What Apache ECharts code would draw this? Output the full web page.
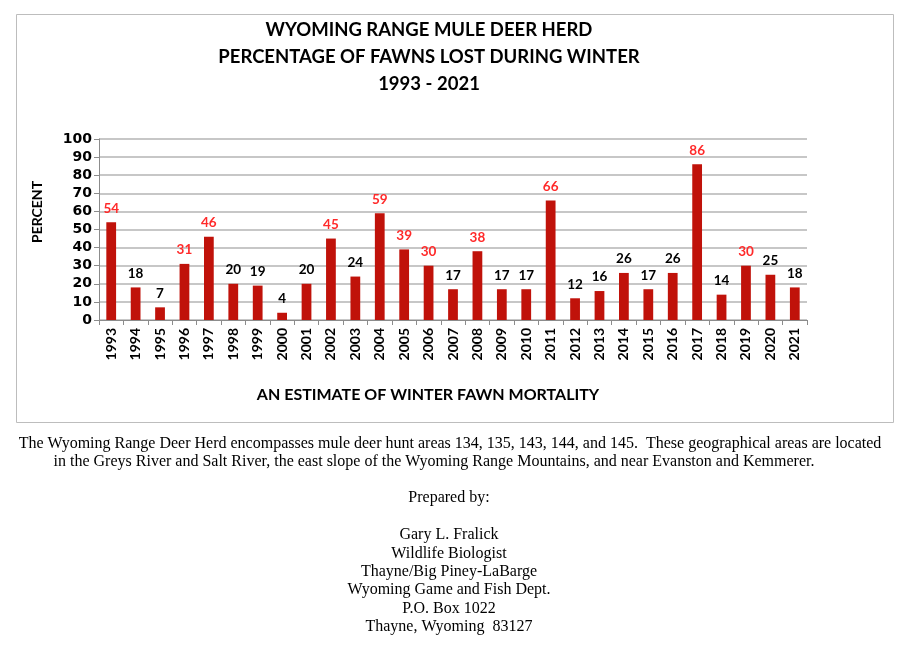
<!DOCTYPE html>
<html><head><meta charset="utf-8">
<script src="https://cdn.jsdelivr.net/npm/echarts@6/dist/echarts.min.js"></script>
<style>html,body{margin:0;padding:0;background:#fff}#c{width:908px;height:650px}</style>
</head><body><div id="c"></div>
<script>
const years = ['1993','1994','1995','1996','1997','1998','1999','2000','2001','2002','2003','2004','2005','2006','2007','2008','2009','2010','2011','2012','2013','2014','2015','2016','2017','2018','2019','2020','2021'];
const fawnLoss = [54,18,7,31,46,20,19,4,20,45,24,59,39,30,17,38,17,17,66,12,16,26,17,26,86,14,30,25,18];
const yTicks = [0,10,20,30,40,50,60,70,80,90,100];
const titleLines = ['WYOMING RANGE MULE DEER HERD','PERCENTAGE OF FAWNS LOST DURING WINTER','1993 - 2021'];
const footerLines = [
 'The Wyoming Range Deer Herd encompasses mule deer hunt areas 134, 135, 143, 144, and 145.  These geographical areas are located',
 'in the Greys River and Salt River, the east slope of the Wyoming Range Mountains, and near Evanston and Kemmerer.'];
const preparedLines = ['Prepared by:'];
const contactLines = ['Gary L. Fralick','Wildlife Biologist','Thayne/Big Piney-LaBarge','Wyoming Game and Fish Dept.','P.O. Box 1022','Thayne, Wyoming  83127'];

const chart = echarts.init(document.getElementById('c'), null, {renderer:'canvas'});
const FONT = 'Lato';
const SERIF = 'Liberation Serif';
const gfx = [];
gfx.push({type:'rect', shape:{x:16.5,y:14.5,width:877,height:408}, style:{fill:'none', stroke:'#bdbdbd', lineWidth:1}});
titleLines.forEach((t,i)=>gfx.push({type:'text', x:429, y:30+27*i, style:{text:t, fontFamily:FONT, fontWeight:'bold', fontSize:18.5, fill:'#000', align:'center', verticalAlign:'middle'}}));
gfx.push({type:'text', x:428, y:395, style:{text:'AN ESTIMATE OF WINTER FAWN MORTALITY', fontFamily:FONT, fontWeight:'bold', fontSize:16, fill:'#000', align:'center', verticalAlign:'middle'}});
gfx.push({type:'text', x:37, y:212, rotation:Math.PI/2, style:{text:'PERCENT', fontFamily:FONT, fontWeight:'bold', fontSize:14, fill:'#000', align:'center', verticalAlign:'middle'}});
const footerCenters = [450, 434];
footerLines.forEach((t,i)=>gfx.push({type:'text', x:footerCenters[i], y:444+18*i, style:{text:t, fontFamily:SERIF, fontSize:16, fill:'#000', align:'center', verticalAlign:'middle'}}));
preparedLines.forEach((t,i)=>gfx.push({type:'text', x:449, y:498, style:{text:t, fontFamily:SERIF, fontSize:16, fill:'#000', align:'center', verticalAlign:'middle'}}));
contactLines.forEach((t,i)=>gfx.push({type:'text', x:449, y:535+18.4*i, style:{text:t, fontFamily:SERIF, fontSize:16, fill:'#000', align:'center', verticalAlign:'middle'}}));

chart.setOption({
  animation:false,
  graphic:gfx,
  grid:{left:99, right:101, top:139, bottom:330, containLabel:false},
  xAxis:{type:'category', data:years,
    axisLine:{lineStyle:{color:'#8c8c8c', width:1}},
    axisTick:{show:true, alignWithLabel:false, length:5, lineStyle:{color:'#8c8c8c'}},
    axisLabel:{rotate:90, interval:0, fontFamily:FONT, fontWeight:'bold', fontSize:14, color:'#000', margin:8}},
  yAxis:{type:'value', min:0, max:100, interval:10,
    axisLine:{show:true, lineStyle:{color:'#8c8c8c'}},
    axisTick:{show:true, length:5, lineStyle:{color:'#8c8c8c'}},
    splitLine:{lineStyle:{color:'#b4b4b4', width:1.5}},
    axisLabel:{fontFamily:'DejaVu Sans', fontWeight:'bold', fontSize:14, color:'#000', margin:7}},
  series:[{type:'bar', barWidth:'40%',
    data:fawnLoss.map(v=>({value:v, label:{color:v>=30?'#ff2a2a':'#000'}})),
    itemStyle:{color:'#c0120a'},
    label:{show:true, position:'top', distance:7, fontFamily:FONT, fontWeight:'bold', fontSize:13.5, formatter:'{c}'}}]
});
</script></body></html>
